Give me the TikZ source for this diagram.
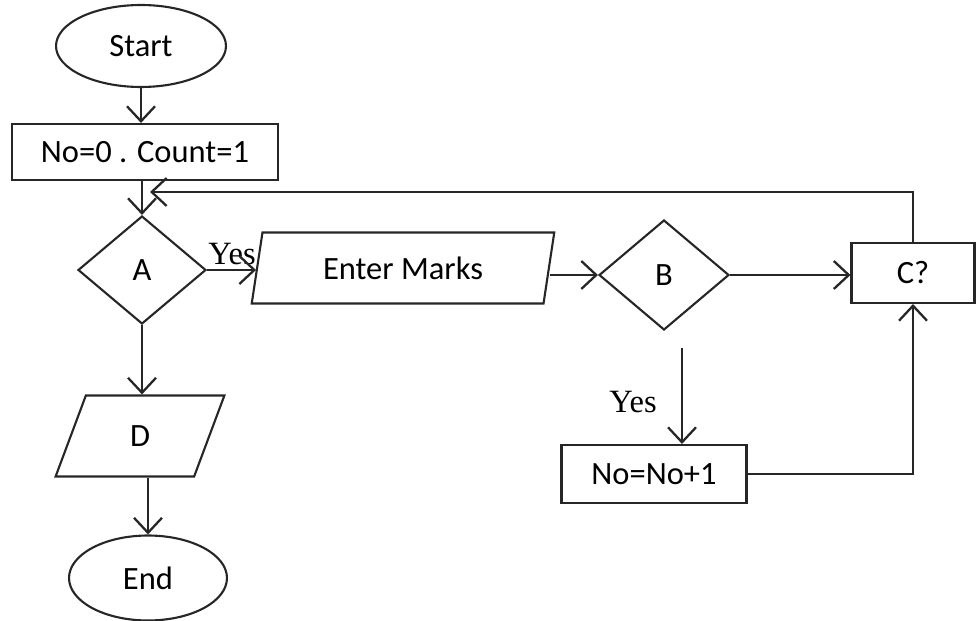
\documentclass[tikz,border=0pt]{standalone}
\usepackage{fontspec}
\setmainfont{Carlito}
\newfontfamily\yesfont{Liberation Serif}
\usetikzlibrary{arrows.meta,shapes.geometric,calc}

\begin{document}
\begin{tikzpicture}[
  x=0.02cm, y=-0.02cm,
  font=\fontsize{18.5}{20}\selectfont,
  >={Straight Barb[length=3mm,width=5.6mm,line width=1.3pt]},
  terminal/.style={
    ellipse, draw=black!85, line width=1.2pt, inner sep=0pt
  },
  procbox/.style={
    rectangle, draw=black!85, line width=1.2pt, inner sep=0pt
  },
  decision/.style={
    diamond, draw=black!85, line width=1.2pt, inner sep=0pt,
    minimum width=2.56cm, minimum height=2.16cm
  },
  iobox/.style={
    trapezium, trapezium left angle=75, trapezium right angle=105,
    trapezium stretches=true, draw=black!85, line width=1.2pt, inner sep=0pt
  },
  yeslabel/.style={font=\yesfont\fontsize{18.5}{20}\selectfont},
  flow/.style={->,line width=1.3pt,draw=black!85},
]
\useasboundingbox (0,0) rectangle (977,621);

\node[terminal, minimum width=3.4cm, minimum height=1.64cm] (start) at (141,46) {Start};
\node[procbox, minimum width=5.32cm, minimum height=1.12cm, text depth=-0.12cm] (init) at (145,152) {No=0 . Count=1};
\node[decision] (A) at (142,270) {A};
\node[iobox, minimum width=6.06cm, minimum height=1.42cm] (enter) at (403,268) {Enter Marks};
\node[decision, minimum width=2.6cm, minimum height=2.2cm] (B) at (664,275) {B};
\node[procbox, minimum width=2.46cm, minimum height=1.2cm] (C) at (913,273) {C?};
\node[procbox, minimum width=3.7cm, minimum height=1.16cm] (inc) at (654,474) {No=No+1};
\node[iobox, minimum width=3.38cm, minimum height=1.62cm] (D) at (140,436) {D};
\node[terminal, minimum width=3.16cm, minimum height=1.7cm] (end) at (148,578) {End};

\node[yeslabel] (yesA) at (232,254) {Yes};
\node[yeslabel] (yesB) at (633,402) {Yes};

\coordinate (back) at (150,192);
\coordinate (byes) at (682,348);

\draw[flow] (start) -- (init.north -| start.south);
\draw[flow] (init.south -| A.north) -- (A.north);
\draw[flow] (A.east) -- (A.east -| enter.west);
\draw[flow] (enter.east |- B.west) -- (B.west);
\draw[flow] (B.east) -- (B.east -| C.west);
\draw[flow] (C.north) |- (back);
\draw[flow] (byes) -- (byes |- inc.north);
\draw[flow] (inc.east) -| (C.south);
\draw[flow] (A.south) -- (A.south |- D.north);
\draw[flow] (D.south -| end.north) -- (end.north);

\end{tikzpicture}
\end{document}
